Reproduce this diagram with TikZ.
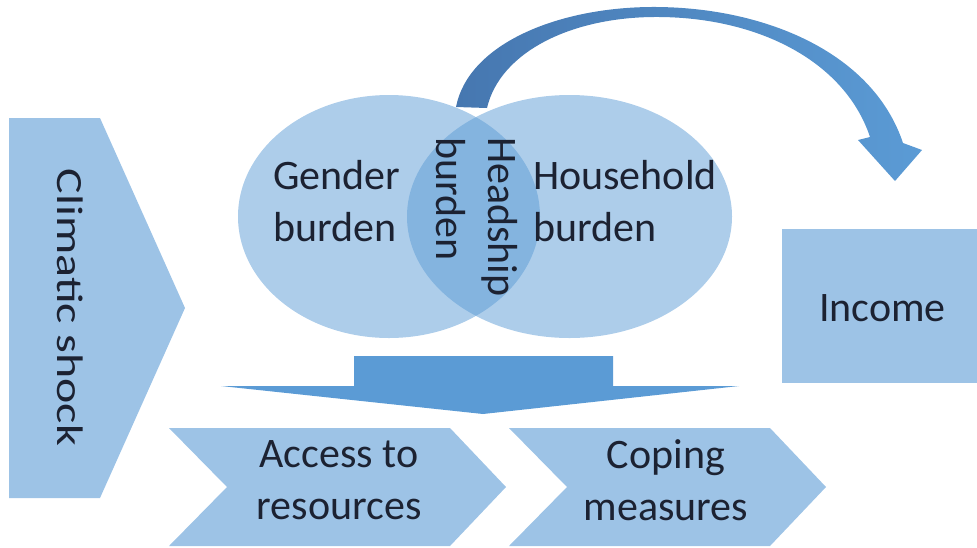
\documentclass[tikz,border=0pt]{standalone}
\usepackage{fontspec}
\setmainfont{Carlito}
\definecolor{lightfill}{HTML}{9DC3E6}
\definecolor{accent}{HTML}{5B9BD5}
\definecolor{accentdark}{HTML}{4677B0}
\definecolor{txt}{HTML}{1C2232}
\begin{document}
\begin{tikzpicture}[x=1pt,y=-1pt,
  lbl/.style={text=txt,inner sep=0pt,font=\fontsize{42}{52}\selectfont},
  shapefill/.style={fill=lightfill},
  circfill/.style={fill=accent,fill opacity=0.5}]
\useasboundingbox (0,0) rectangle (977,547);
% Climatic shock pentagon
\fill[shapefill] (9,118) -- (100,118) -- (185,308) -- (100,498) -- (9,498) -- cycle;
% chevrons
\fill[shapefill] (169,428) -- (450,428) -- (506,487) -- (450,546) -- (169,546) -- (227,487) -- cycle;
\fill[shapefill] (509,428) -- (770,428) -- (826,487) -- (770,546) -- (509,546) -- (567,487) -- cycle;
% Income box
\fill[shapefill] (782,229) rectangle (977,383);
% Venn circles
\fill[circfill] (389,216.5) ellipse [x radius=151, y radius=121.5];
\fill[circfill] (569.5,216.5) ellipse [x radius=162.5, y radius=121.5];
% down arrow
\fill[accent] (354,356) -- (613,356) -- (613,386) -- (739,386) -- (483,414) -- (221,386) -- (354,386) -- cycle;
% curved arrow
\shade[left color=accentdark, right color=accent]
  (456,107) .. controls (468,45) and (555,8) .. (650,7)
  .. controls (760,6) and (872,50) .. (903,143)
  -- (922,150) -- (895,181) -- (858,140) -- (870,137)
  .. controls (845,62) and (760,18) .. (660,17)
  .. controls (572,16) and (500,52) .. (487,108) -- cycle;
% texts
\node[lbl, anchor=west, align=left] (gender) at (273,201.5) {Gender\\burden};
\node[lbl, anchor=west, align=left] (household) at (533,201.5) {Household\\burden};
\node[lbl, anchor=west, align=left, rotate=-90] (headship) at (476.5,137) {Headship\\burden};
\node[lbl, rotate=-90] (climatic) at (70,307.5) {\scalebox{1.14}[0.88]{Climatic shock}};
\node[lbl, anchor=base west] (income) at (819,321) {Income};
\node[lbl, align=center] (access) at (339,480) {Access to\\resources};
\node[lbl, align=center] (coping) at (666,480) {Coping\\measures};
\end{tikzpicture}
\end{document}
